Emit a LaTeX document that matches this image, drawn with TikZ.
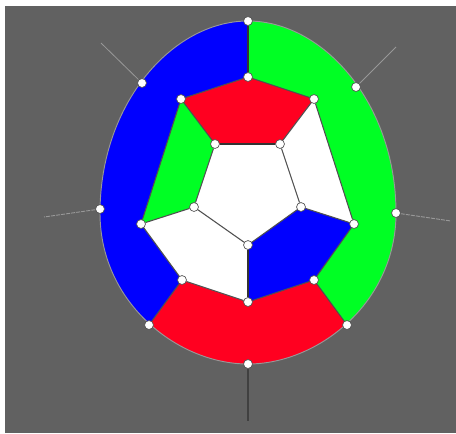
\documentclass[tikz,border=0pt]{standalone}
\definecolor{bggray}{HTML}{616161}
\definecolor{edgegray}{HTML}{505050}
\definecolor{rimgray}{HTML}{989898}
\definecolor{fblue}{HTML}{0000FF}
\definecolor{fgreen}{HTML}{00FF24}
\definecolor{fred}{HTML}{FF0020}
\pgfdeclarelayer{under}
\pgfsetlayers{under,main}
\tikzset{
  vtx/.style={circle,draw=edgegray,fill=white,line width=0.5pt,minimum size=6.7pt,inner sep=0pt},
  edgeline/.style={draw=edgegray,line width=0.8pt},
  darkedge/.style={draw=black!80,line width=0.9pt},
  stub/.style={draw=rimgray,line width=0.6pt},
  dashstub/.style={draw=rimgray,line width=0.7pt,dash pattern=on 3pt off 0.8pt},
  tailstub/.style={draw=black!75,line width=1.1pt}
}
\begin{document}
\begin{tikzpicture}[x=0.75pt,y=-0.75pt]
\useasboundingbox (0,0) rectangle (456,433);
% outer curve anchors
\coordinate (pT) at (248,21);
\coordinate (pE) at (396,213);
\coordinate (pB) at (248,364);
\coordinate (pW) at (100,213);
\newcommand{\egg}{(pT) .. controls (323,21) and (396,103) .. (pE)
  .. controls (396,303) and (318,364) .. (pB)
  .. controls (178,364) and (100,303) .. (pW)
  .. controls (100,103) and (173,21) .. (pT) -- cycle}
% stub ends
\coordinate (s1) at (101,43);
\coordinate (s2) at (396,47);
\coordinate (s3) at (44,217);
\coordinate (s4) at (451,221);
\coordinate (s5) at (248,421);
% vertices
\node[vtx] (o0) at (248,21) {};
\node[vtx] (o1) at (356,87) {};
\node[vtx] (o2) at (396,213) {};
\node[vtx] (o3) at (347,325) {};
\node[vtx] (o4) at (248,364) {};
\node[vtx] (o5) at (149,325) {};
\node[vtx] (o6) at (100,209) {};
\node[vtx] (o7) at (142,83) {};
\node[vtx] (m0) at (248,77) {};
\node[vtx] (m1) at (314,99) {};
\node[vtx] (m2) at (354,224) {};
\node[vtx] (m3) at (314,280) {};
\node[vtx] (m4) at (248,302) {};
\node[vtx] (m5) at (182,280) {};
\node[vtx] (m6) at (141,224) {};
\node[vtx] (m7) at (181,99) {};
\node[vtx] (c0) at (215,144) {};
\node[vtx] (c1) at (280,144) {};
\node[vtx] (c2) at (301,207) {};
\node[vtx] (c3) at (248,245) {};
\node[vtx] (c4) at (194,207) {};
\begin{pgfonlayer}{under}
\fill[bggray] (5,6) rectangle (456,433);
% faces
\begin{scope}
\clip \egg;
\fill[fblue] (248,0) -- (0,0) -- (0,325) -- (149,325) -- (m5.center) -- (m6.center) -- (m7.center) -- (m0.center) -- cycle;
\fill[fgreen] (248,0) -- (456,0) -- (456,325) -- (347,325) -- (m3.center) -- (m2.center) -- (m1.center) -- (m0.center) -- cycle;
\fill[fred] (m5.center) -- (o5.center) -- (126,356) -- (248,433) -- (370,356) -- (o3.center) -- (m3.center) -- (m4.center) -- cycle;
\end{scope}
\fill[fred] (m0.center) -- (m1.center) -- (c1.center) -- (c0.center) -- (m7.center) -- cycle;
\fill[fgreen] (m7.center) -- (c0.center) -- (c4.center) -- (m6.center) -- cycle;
\fill[white] (m1.center) -- (c1.center) -- (c2.center) -- (m2.center) -- cycle;
\fill[white] (c0.center) -- (c1.center) -- (c2.center) -- (c3.center) -- (c4.center) -- cycle;
\fill[white] (m6.center) -- (c4.center) -- (c3.center) -- (m4.center) -- (m5.center) -- cycle;
\fill[fblue] (c3.center) -- (c2.center) -- (m2.center) -- (m3.center) -- (m4.center) -- cycle;
% outline
\draw[rimgray,line width=0.7pt] \egg;
% connectors
\draw[edgeline] (m0)--(m1) (m1)--(m2) (m2)--(m3) (m3)--(m4) (m4)--(m5) (m5)--(m6) (m6)--(m7) (m7)--(m0);
\draw[edgeline] (c1)--(c2) (c2)--(c3) (c3)--(c4) (c4)--(c0);
\draw[edgeline] (m7)--(c0) (m1)--(c1) (c2)--(m2) (c4)--(m6);
\draw[edgeline] (o3)--(m3) (o5)--(m5);
\draw[darkedge] (c0)--(c1) (o0)--(m0) (c3)--(m4);
\draw[stub] (o7)--(s1) (o1)--(s2);
\draw[dashstub] (o6)--(s3) (o2)--(s4);
\draw[tailstub] (o4)--(s5);
\end{pgfonlayer}
\end{tikzpicture}
\end{document}
